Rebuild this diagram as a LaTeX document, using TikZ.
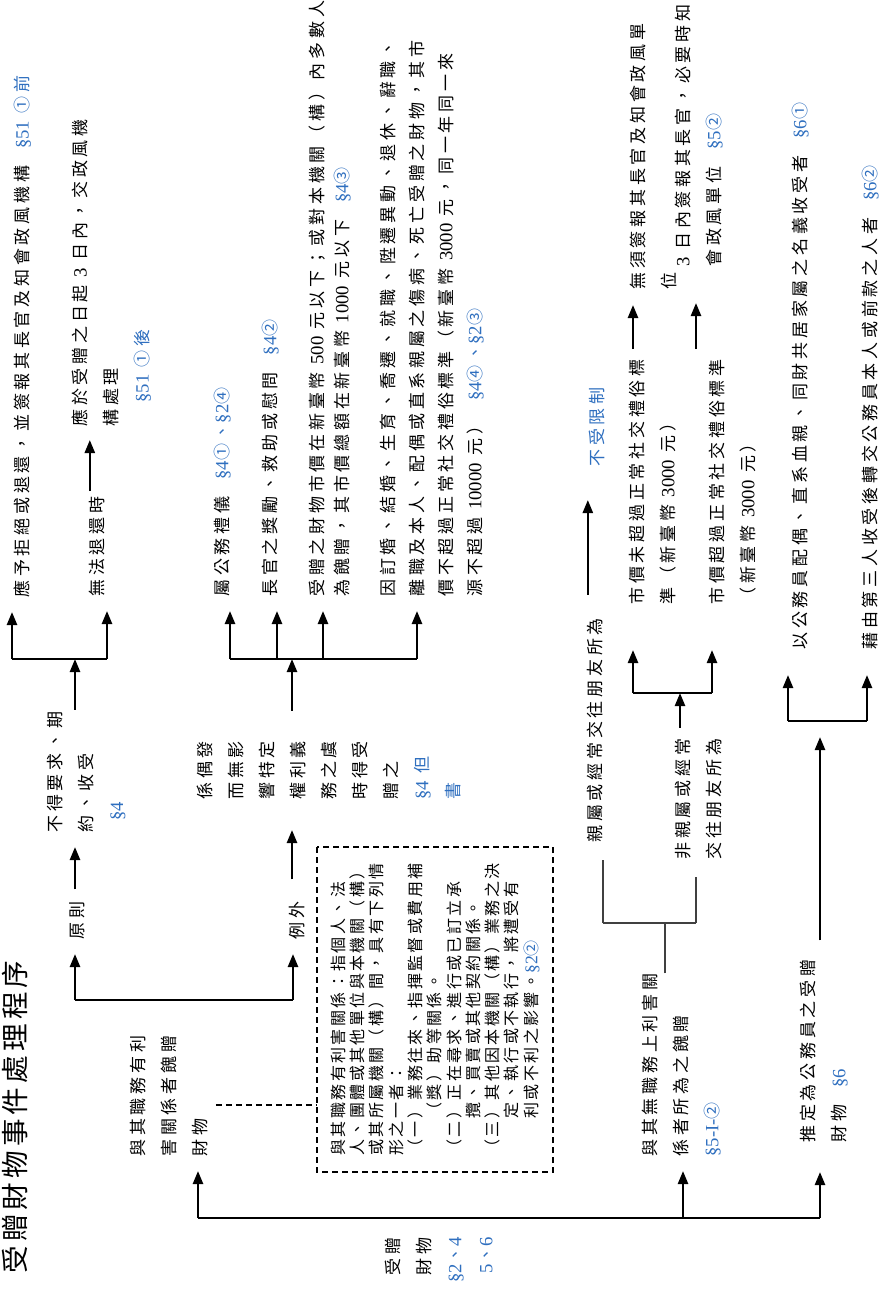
\documentclass[tikz,border=0pt]{standalone}
\usepackage{fontspec}
\newfontfamily\cjk[LetterSpace=22]{Noto Sans CJK TC}
\newfontfamily\cjkbox[LetterSpace=15]{Noto Sans CJK TC}
\newfontfamily\ltnfont[Scale=1.1]{Liberation Serif}
\usetikzlibrary{arrows.meta}
\definecolor{refblue}{HTML}{2F6FBF}
\newcommand{\sect}[1]{{\color{refblue}#1}}
\newcommand{\ltn}[1]{{\ltnfont #1}}

\begin{document}
\begin{tikzpicture}[x=0.5pt, y=-0.5pt, >={Triangle[length=6.5pt,width=5pt]},
  txt/.style={rotate=90, inner sep=0pt, align=left, anchor=north west,
    font=\cjk\fontsize{8.5}{15.5}\selectfont},
  bar/.style={line width=1.2pt},
  arr/.style={bar, ->, shorten >=7pt},
  stem/.style={bar, ->},
  fineline/.style={line width=0.7pt, draw=black!75},
  dashline/.style={line width=0.6pt, dash pattern=on 3pt off 2pt}]
  \useasboundingbox (0,0) rectangle (884,1289);

  % title and root
  \node[txt, anchor=east, font=\cjkbox\fontsize{13.8}{17}\selectfont] (title) at (15,960) {受贈財物事件處理程序};
  \node[txt, anchor=north east, align=right] (root) at (384.5,1237)
    {受贈\\財物\\\sect{\ltn{§2}、\ltn{4}}\\\sect{\ltn{5}、\ltn{6}}};

  % first level
  \node[txt] (n1) at (129.5,1157) {與其職務有利\\害關係者餽贈\\財物};
  \node[txt] (n2) at (641.5,1157) {與其無職務上利害關\\係者所為之餽贈\\\sect{\ltn{§5-I-}②}};
  \node[txt] (n3) at (799.5,1143) {推定為公務員之受贈\\財物\quad\sect{\ltn{§6}}};

  \coordinate (busA) at (198,1218);
  \coordinate (busB) at (683,1218);
  \coordinate (busC) at (820,1218);
  \draw[bar] (busA) -- (busC);
  \draw[arr] (busA) -- (busA |- n1.west);
  \draw[arr] (busB) -- (busB |- n2.west);
  \draw[arr, shorten >=14.5pt] (busC) -- (busC |- n3.west);

  % conflict of interest box
  \node[rotate=90, draw, dashline, minimum width=162.5pt, minimum height=118pt, align=left,
    inner sep=0pt, font=\cjkbox\fontsize{8}{9.65}\selectfont] (box) at (435,1009.5)
    {與其職務有利害關係：指個人、法\\
     人、團體或其他單位與本機關（構）\\
     或其所屬機關（構）間，具有下列情\\
     形之一者：\\
     （一）業務往來、指揮監督或費用補\\
     \hspace*{18.5pt}（獎）助等關係。\\
     （二）正在尋求、進行或已訂立承\\
     \hspace*{18.5pt}攬、買賣或其他契約關係。\\
     （三）其他因本機關（構）業務之決\\
     \hspace*{18.5pt}定、執行或不執行，將遭受有\\
     \hspace*{18.5pt}利或不利之影響。\sect{\ltn{§2}②}};
  \coordinate (dashY) at (0,1105);
  \draw[dashline] ([xshift=4pt]n1.south |- dashY) -- (box.north |- dashY);

  % principle / exception
  \coordinate (kA) at (75,1000);
  \coordinate (kB) at (293,1000);
  \draw[bar] (kA) -- (kB);
  \node[txt, anchor=west] (yuan) at (77,940) {原則};
  \node[txt, anchor=west] (lw) at (297,940) {例外};
  \draw[arr] (kA) -- (kA |- yuan.west);
  \draw[arr] (kB) -- (kB |- lw.west);

  % principle branch
  \node[txt] (qi) at (46.5,833) {不得要求、期\\約、收受\\\hspace*{6pt}\sect{\ltn{§4}}};
  \draw[arr, shorten <=6pt] (yuan.east -| kA) -- (kA |- qi.west);
  \coordinate (kC) at (12,659);
  \coordinate (kD) at (107,659);
  \coordinate (kCm) at (75,659);
  \draw[bar] (kC) -- (kD);
  \draw[stem, shorten <=1pt] (kCm |- qi.east) -- (kCm);
  \node[txt] (a1) at (13.5,598) {應予拒絕或退還，並簽報其長官及知會政風機構\quad\sect{\ltn{§51} ①前}};
  \node[txt] (a2) at (88.5,597) {無法退還時};
  \node[txt] (a3) at (71.5,427) {應於受贈之日起 \ltn{3} 日內，交政風機\\構處理\\\hspace*{12pt}\sect{\ltn{§51} ①後}};
  \draw[arr] (kC) -- (kC |- a1.west);
  \draw[arr] (kD) -- (kD |- a2.west);
  \coordinate (a2up) at ([xshift=-3.5pt]a2.east);
  \draw[arr, shorten <=2.5pt, shorten >=6.5pt] (a2up) -- (a2up |- a3.west);

  % exception branch
  \node[txt] (ps) at (196.5,800) {係偶發\\而無影\\響特定\\權利義\\務之虞\\時得受\\贈之\\\sect{\ltn{§4} 但}\\\sect{書}};
  \coordinate (lwup) at ([xshift=-2.5pt]lw.east);
  \draw[arr, shorten <=11pt, shorten >=15pt] (lwup) -- (lwup |- ps.west);
  \coordinate (kE) at (230,659);
  \coordinate (kE2) at (277,659);
  \coordinate (kE3) at (323,659);
  \coordinate (kF) at (417,659);
  \coordinate (kEm) at (292,659);
  \draw[bar] (kE) -- (kF);
  \draw[stem, shorten <=15pt] (kEm |- ps.east) -- (kEm);
  \node[txt] (c1) at (213.5,597) {屬公務禮儀\quad\sect{\ltn{§4}①、\ltn{§2}④}};
  \node[txt] (c2) at (261.5,597) {長官之獎勵、救助或慰問\quad\sect{\ltn{§4}②}};
  \node[txt, font=\cjk\fontsize{8.5}{12.5}\selectfont] (c3) at (308.5,597)
    {受贈之財物市價在新臺幣 \ltn{500} 元以下；或對本機關（構）內多數人\\為餽贈，其市價總額在新臺幣 \ltn{1000} 元以下\quad\sect{\ltn{§4}③}};
  \node[txt, font=\cjk\fontsize{8.5}{14.5}\selectfont] (c4) at (379.5,597)
    {因訂婚、結婚、生育、喬遷、就職、陞遷異動、退休、辭職、\\離職及本人、配偶或直系親屬之傷病、死亡受贈之財物，其市\\價不超過正常社交禮俗標準（新臺幣 \ltn{3000} 元，同一年同一來\\源不超過 \ltn{10000} 元）\quad\sect{\ltn{§4}④、\ltn{§2}③}};
  \draw[arr] (kE) -- (kE |- c1.west);
  \draw[arr] (kE2) -- (kE2 |- c2.west);
  \draw[arr] (kE3) -- (kE3 |- c3.west);
  \draw[arr] (kF) -- (kF |- c4.west);

  % gifts without conflict of interest
  \coordinate (tm) at (665,923);
  \coordinate (tL) at (603,923);
  \coordinate (tR) at (696,923);
  \draw[fineline] (tm |- n2.east) -- (tm);
  \draw[fineline] (tL) -- (tR);
  \node[txt] (q1) at (586.5,843) {親屬或經常交往朋友所為};
  \node[txt] (q2) at (674.5,860) {非親屬或經常\\交往朋友所為};
  \draw[fineline, shorten >=8.5pt] (tL) -- (tL |- q1.west);
  \draw[fineline, shorten >=8.5pt] (tR) -- (tR |- q2.west);
  \node[txt] (q1b) at (588.5,467) {\sect{不受限制}};
  \coordinate (q1up) at ([xshift=-3.5pt]q1.east);
  \draw[arr, shorten <=11.5pt, shorten >=16.5pt] (q1up) -- (q1up |- q1b.west);

  \coordinate (kG) at (633,693);
  \coordinate (kH) at (712,693);
  \coordinate (kGm) at (680,693);
  \draw[bar] (kG) -- (kH);
  \draw[stem, shorten <=5.5pt] (kGm |- q2.east) -- (kGm);
  \node[txt] (d1) at (628.5,605) {市價未超過正常社交禮俗標\\準（新臺幣 \ltn{3000} 元）};
  \node[txt] (d2) at (708.5,605) {市價超過正常社交禮俗標準\\（新臺幣 \ltn{3000} 元）};
  \draw[arr, shorten >=22.5pt] (kG) -- (kG |- d1.west);
  \draw[arr, shorten >=22.5pt] (kH) -- (kH |- d2.west);
  \node[txt] (e1) at (629.5,290) {無須簽報其長官及知會政風單\\位};
  \node[txt] (e2) at (674.5,267) {\ltn{3} 日內簽報其長官，必要時知\\會政風單位\quad\sect{\ltn{§5}②}};
  \coordinate (dd) at (696,0);
  \draw[arr, shorten <=5pt, shorten >=7.5pt] (kG |- d1.east) -- (kG |- e1.west);
  \draw[arr, shorten <=5pt, shorten >=18pt] (dd |- d2.east) -- (dd |- e2.west);

  % presumed gifts
  \coordinate (kI) at (788,721);
  \coordinate (kJ) at (867,721);
  \draw[bar] (kI) -- (kJ);
  \draw[arr, shorten <=9.5pt, shorten >=8pt] (busC |- n3.east) -- (busC |- kI);
  \node[txt] (f1) at (791.5,650) {以公務員配偶、直系血親、同財共居家屬之名義收受者\quad\sect{\ltn{§6}①}};
  \node[txt] (f2) at (861.5,650) {藉由第三人收受後轉交公務員本人或前款之人者\quad\sect{\ltn{§6}②}};
  \draw[arr, shorten >=12.5pt] (kI) -- (kI |- f1.west);
  \draw[arr, shorten >=12.5pt] (kJ) -- (kJ |- f2.west);
\end{tikzpicture}
\end{document}
